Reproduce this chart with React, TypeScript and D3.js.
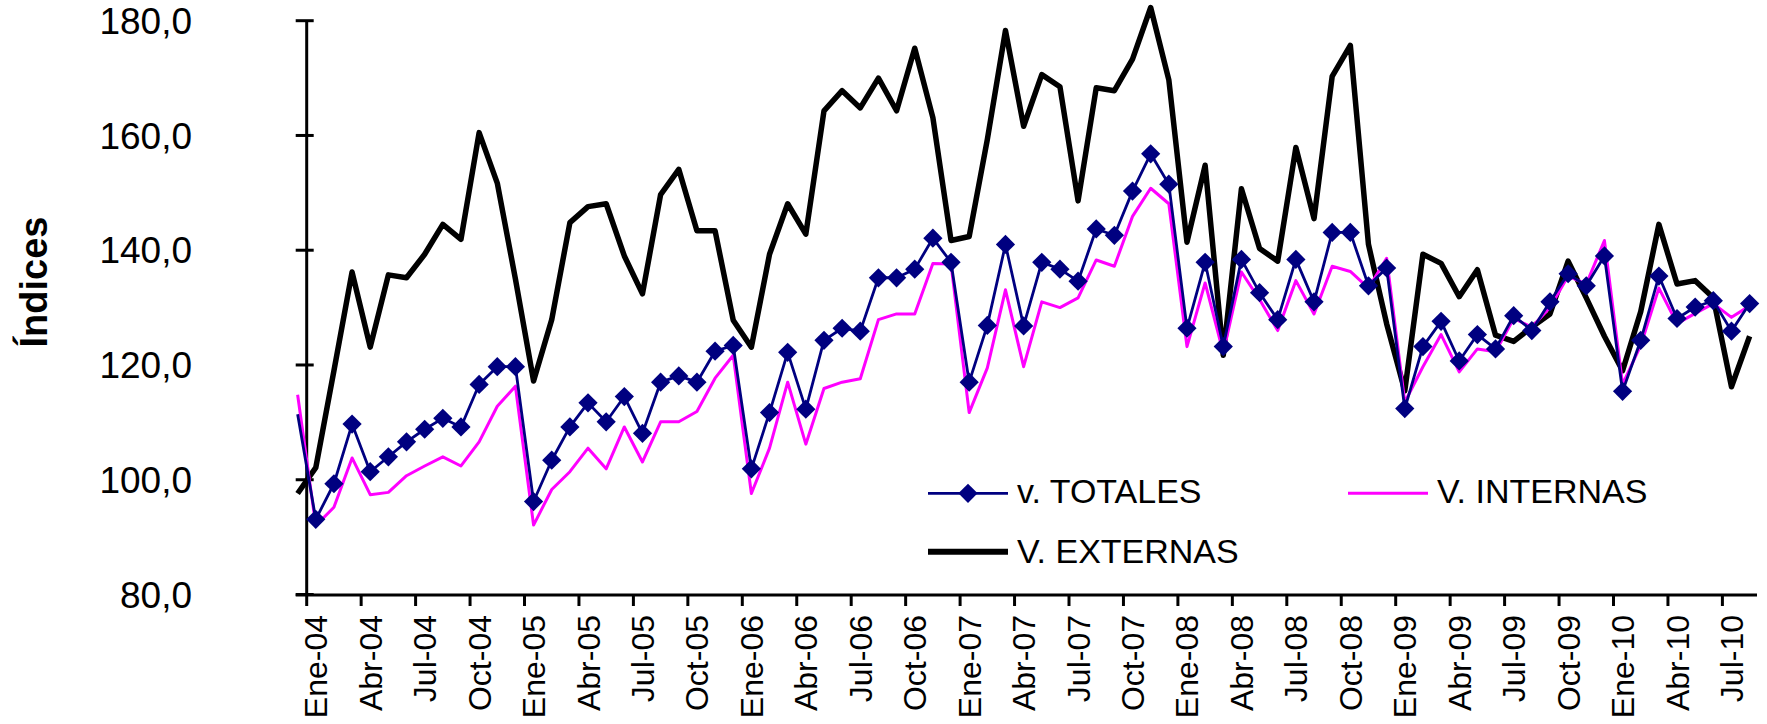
import React from "react";
import * as d3 from "d3";

const categories = [
  "Dic-03",
  "Ene-04","Feb-04","Mar-04","Abr-04","May-04","Jun-04","Jul-04","Ago-04","Sep-04","Oct-04","Nov-04","Dic-04",
  "Ene-05","Feb-05","Mar-05","Abr-05","May-05","Jun-05","Jul-05","Ago-05","Sep-05","Oct-05","Nov-05","Dic-05",
  "Ene-06","Feb-06","Mar-06","Abr-06","May-06","Jun-06","Jul-06","Ago-06","Sep-06","Oct-06","Nov-06","Dic-06",
  "Ene-07","Feb-07","Mar-07","Abr-07","May-07","Jun-07","Jul-07","Ago-07","Sep-07","Oct-07","Nov-07","Dic-07",
  "Ene-08","Feb-08","Mar-08","Abr-08","May-08","Jun-08","Jul-08","Ago-08","Sep-08","Oct-08","Nov-08","Dic-08",
  "Ene-09","Feb-09","Mar-09","Abr-09","May-09","Jun-09","Jul-09","Ago-09","Sep-09","Oct-09","Nov-09","Dic-09",
  "Ene-10","Feb-10","Mar-10","Abr-10","May-10","Jun-10","Jul-10","Ago-10",
];

const tickLabels = [
  "Ene-04","Abr-04","Jul-04","Oct-04",
  "Ene-05","Abr-05","Jul-05","Oct-05",
  "Ene-06","Abr-06","Jul-06","Oct-06",
  "Ene-07","Abr-07","Jul-07","Oct-07",
  "Ene-08","Abr-08","Jul-08","Oct-08",
  "Ene-09","Abr-09","Jul-09","Oct-09",
  "Ene-10","Abr-10","Jul-10",
];

const yTicks = [80, 100, 120, 140, 160, 180];

const totales = [
  111.4, 93.1, 99.3, 109.7, 101.4, 104, 106.6, 108.8, 110.7, 109.2, 116.6, 119.7, 119.7,
  96.2, 103.4, 109.2, 113.4, 110.1, 114.5, 108.1, 117, 118.1, 117, 122.4, 123.4,
  101.9, 111.7, 122.2, 112.3, 124.3, 126.4, 125.9, 135.2, 135.2, 136.7, 142.1, 137.9,
  117, 126.9, 141, 126.8, 137.9, 136.7, 134.6, 143.7, 142.6, 150.3, 156.8, 151.5,
  126.4, 137.9, 123.2, 138.4, 132.6, 127.9, 138.4, 131, 143.1, 143.1, 133.8, 136.9,
  112.4, 123.2, 127.6, 120.7, 125.3, 122.8, 128.6, 126, 131, 135.9, 133.8, 139,
  115.4, 124.3, 135.5, 128.1, 130.1, 131.2, 125.9, 130.7,
];

const internas = [
  114.8, 92, 95.2, 103.8, 97.4, 97.8, 100.7, 102.4, 104, 102.4, 106.6, 112.8, 116.3,
  92.1, 98.3, 101.4, 105.5, 101.9, 109.2, 103.1, 110.1, 110.1, 111.9, 117.7, 121.7,
  97.6, 105.5, 117, 106.2, 115.9, 117, 117.6, 127.9, 128.9, 128.9, 137.7, 137.6,
  111.7, 119.5, 133.1, 119.7, 131, 130, 131.7, 138.3, 137.2, 145.9, 150.8, 148.1,
  123.2, 134.3, 122.1, 136.2, 131.4, 126, 134.7, 128.9, 137.2, 136.3, 133.4, 138.6,
  113.5, 119.7, 125.3, 118.8, 122.8, 122.3, 128.1, 126.6, 130, 135.5, 134.1, 141.7,
  116.6, 123.4, 133.4, 127.2, 129, 130.7, 128.3, 130.3,
];

const externas = [
  97.6, 102.1, 119, 136.2, 123.1, 135.7, 135.2, 139.3, 144.5, 141.9, 160.5, 151.7, 135,
  117.2, 127.9, 144.8, 147.6, 148.1, 139, 132.4, 149.7, 154.1, 143.4, 143.4, 127.8,
  123.1, 139.3, 148.1, 142.8, 164.3, 167.8, 164.8, 170, 164.3, 175.2, 163.1, 141.7,
  142.4, 159.3, 178.3, 161.6, 170.6, 168.5, 148.6, 168.3, 167.8, 173.3, 182.3, 169.7,
  141.4, 154.8, 121.7, 150.7, 140.3, 138.1, 157.9, 145.5, 170.3, 175.7, 141, 127.2,
  115.5, 139.3, 137.7, 131.9, 136.6, 125.2, 124.1, 126.6, 128.9, 138.1, 131.7, 125,
  119, 129.3, 144.5, 134.1, 134.7, 131.7, 116.2, 125,
];

const W = 1767;
const H = 724;
const AXIS_X = 306.7;
const STEP = 18.15;
const AXIS_Y = 595;
const FONT = "'Liberation Sans', Arial, Helvetica, sans-serif";
const NAVY = "#000080";
const MAGENTA = "#FF00FF";

export default function App() {
  const x = d3
    .scalePoint<string>()
    .domain(categories)
    .range([AXIS_X - 0.5 * STEP, AXIS_X + (categories.length - 1.5) * STEP]);
  const y = d3.scaleLinear().domain([80, 180]).range([594.5, 20.7]);

  const line = d3
    .line<number>()
    .x((_, i) => x(categories[i]) as number)
    .y((d) => y(d));

  const diamond = d3.symbol().type(d3.symbolSquare).size(185)();

  const tickX = (lab: string) => (x(lab) as number) - STEP / 2;

  return (
    <div style={{ position: "absolute", left: 0, top: 0 }}>
      <svg width={W} height={H} style={{ display: "block", background: "#fff" }} fontFamily={FONT}>
        {/* Y axis */}
        <line x1={AXIS_X} x2={AXIS_X} y1={y(180)} y2={AXIS_Y} stroke="#000" strokeWidth={3} />
        {yTicks.map((t) => (
          <g key={t}>
            <line x1={AXIS_X - 11} x2={AXIS_X + 7} y1={y(t)} y2={y(t)} stroke="#000" strokeWidth={3} />
            <text x={192} y={y(t) + 13.2} textAnchor="end" fontSize={37} fill="#000">
              {d3.format(".1f")(t).replace(".", ",")}
            </text>
          </g>
        ))}
        <text
          transform={`translate(47,282) rotate(-90)`}
          textAnchor="middle"
          fontSize={38}
          fontWeight="bold"
          fill="#000"
        >
          Índices
        </text>

        {/* X axis */}
        <line x1={AXIS_X - 11} x2={1757} y1={AXIS_Y} y2={AXIS_Y} stroke="#000" strokeWidth={3} />
        {tickLabels.map((lab) => (
          <g key={lab}>
            <line x1={tickX(lab)} x2={tickX(lab)} y1={AXIS_Y} y2={AXIS_Y + 11} stroke="#000" strokeWidth={3} />
            <text
              transform={`translate(${(x(lab) as number) + 11.5},615) rotate(-90)`}
              textAnchor="end"
              fontSize={32}
              fill="#000"
            >
              {lab}
            </text>
          </g>
        ))}

        {/* Series */}
        <path d={line(externas) || ""} fill="none" stroke="#000" strokeWidth={5.5} strokeLinejoin="round" />
        <path d={line(internas) || ""} fill="none" stroke={MAGENTA} strokeWidth={3} strokeLinejoin="round" />
        <path d={line(totales) || ""} fill="none" stroke={NAVY} strokeWidth={2.8} strokeLinejoin="round" />
        {totales.map((v, i) =>
          i === 0 ? null : (
            <path
              key={i}
              d={diamond || ""}
              transform={`translate(${x(categories[i])},${y(v)}) rotate(45)`}
              fill={NAVY}
            />
          )
        )}

        {/* Legend */}
        <g>
          <line x1={928} x2={1008} y1={493.3} y2={493.3} stroke={NAVY} strokeWidth={2.8} />
          <path d={diamond || ""} transform="translate(968,493.3) rotate(45)" fill={NAVY} />
          <text x={1017} y={503} fontSize={34} fill="#000">v. TOTALES</text>

          <line x1={1348} x2={1428} y1={493.3} y2={493.3} stroke={MAGENTA} strokeWidth={3} />
          <text x={1437} y={503} fontSize={34} fill="#000">V. INTERNAS</text>

          <line x1={928} x2={1008} y1={551.7} y2={551.7} stroke="#000" strokeWidth={6} />
          <text x={1017} y={563} fontSize={34} fill="#000">V. EXTERNAS</text>
        </g>
      </svg>
    </div>
  );
}
